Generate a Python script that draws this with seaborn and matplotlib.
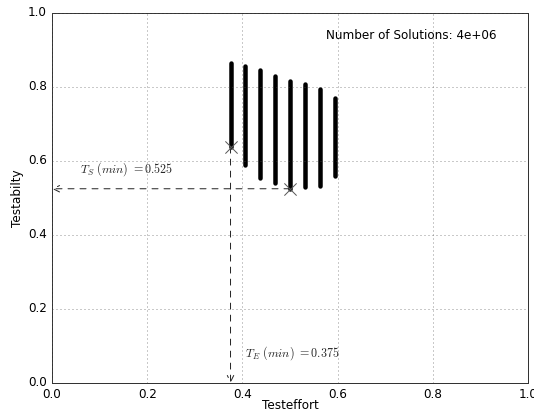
import matplotlib
matplotlib.use("Agg")
import matplotlib.pyplot as plt
import seaborn as sns
import pandas as pd

# Data
col_x = [0.375, 0.40625, 0.4375, 0.46875, 0.5, 0.53125, 0.5625, 0.59375]
col_top = [0.866, 0.858, 0.846, 0.831, 0.816, 0.808, 0.794, 0.771]
col_bottom = [0.6375, 0.589, 0.553, 0.541, 0.525, 0.529, 0.533, 0.559]
min_effort = 0.375
min_effort_testability = 0.6375
min_testability = 0.525
min_testability_effort = 0.5
n_solutions = "4e+06"
x_ticks = [0.0, 0.2, 0.4, 0.6, 0.8, 1.0]
y_ticks = [0.0, 0.2, 0.4, 0.6, 0.8, 1.0]

plt.style.use("classic")
plt.rcParams["font.family"] = ["DejaVu Sans"]
plt.rcParams["font.size"] = 12
plt.rcParams["mathtext.fontset"] = "cm"

rows = []
for i, (x, lo, hi) in enumerate(zip(col_x, col_bottom, col_top)):
    rows.append({"x": x, "y": lo, "col": i})
    rows.append({"x": x, "y": hi, "col": i})
df = pd.DataFrame(rows)

fig = plt.figure(figsize=(534 / 72, 414 / 72), dpi=72)
fig.patch.set_facecolor("white")
ax = fig.add_axes([0.0974, 0.0749, 0.8914, 0.8937])

sns.lineplot(data=df, x="x", y="y", units="col", estimator=None, sort=False,
             color="black", lw=4.5, solid_capstyle="round", ax=ax, legend=False)

pts = pd.DataFrame({"x": [min_effort, min_testability_effort],
                    "y": [min_effort_testability, min_testability]})
sns.scatterplot(data=pts, x="x", y="y", marker="x", s=150, color="0.35",
                linewidth=1, ax=ax, zorder=5, legend=False)

arrow = dict(arrowstyle="->", linestyle="dashed", color="0.15", lw=1,
             shrinkA=0, shrinkB=0, mutation_scale=16)
ax.annotate("", xy=(0, min_testability), xytext=(min_testability_effort, min_testability),
            arrowprops=arrow)
ax.annotate("", xy=(min_effort, 0), xytext=(min_effort, min_effort_testability),
            arrowprops=arrow)

ax.text(0.059, 0.578, r"$T_S\ (min)\ {=}0.525$", fontsize=12, va="center", ha="left", color="0.15")
ax.text(0.405, 0.081, r"$T_E\ (min)\ {=}0.375$", fontsize=12, va="center", ha="left", color="0.15")
ax.text(0.575, 0.94, "Number of Solutions: " + n_solutions, transform=ax.transAxes,
        fontsize=12, va="center", ha="left")

ax.set_xlim(0, 1)
ax.set_ylim(0, 1)
ax.set_xticks(x_ticks)
ax.set_yticks(y_ticks)
ax.tick_params(length=0, pad=5)
ax.grid(True, color="0.3", linestyle=":", linewidth=0.6)
for s in ax.spines.values():
    s.set_color("0.2")
    s.set_linewidth(1)
ax.set_xlabel("Testeffort", labelpad=-2)
ax.set_ylabel("Testabilty", labelpad=4)

fig.savefig("out.png", dpi=72, facecolor="white")
